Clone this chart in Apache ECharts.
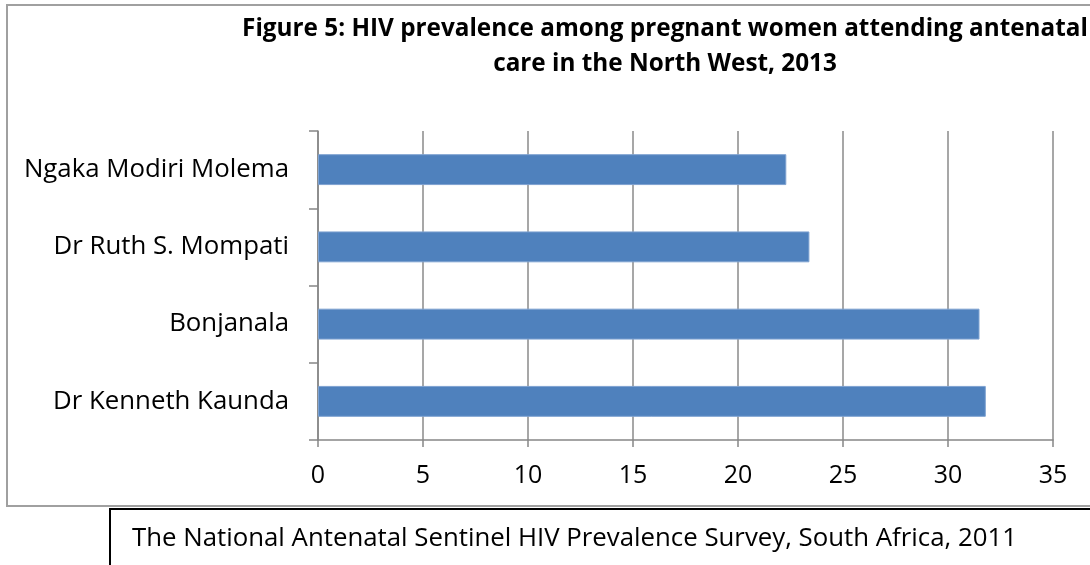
<!DOCTYPE html>
<html>
<head>
<meta charset="utf-8">
<script src="https://cdn.jsdelivr.net/npm/echarts@6/dist/echarts.min.js"></script>
<style>
html,body{margin:0;padding:0;background:#fff;}
#chart{width:1090px;height:565px;}
</style>
</head>
<body>
<div id="chart"></div>
<script>
var titleLines = ['Figure 5: HIV prevalence among pregnant women attending antenatal', 'care in the North West, 2013'];
var categories = ['Dr Kenneth Kaunda', 'Bonjanala', 'Dr Ruth S. Mompati', 'Ngaka Modiri Molema'];
var prevalence = [31.8, 31.5, 23.4, 22.3];
var xTicks = [0, 5, 10, 15, 20, 25, 30, 35];
var sourceNote = 'The National Antenatal Sentinel HIV Prevalence Survey, South Africa, 2011';

var FONT = 'Open Sans';
var chart = echarts.init(document.getElementById('chart'));
chart.setOption({
  animation: false,
  backgroundColor: '#fff',
  title: {
    text: titleLines.join('\n'),
    left: 660,
    top: 7,
    textAlign: 'center',
    textStyle: {fontFamily: FONT, fontWeight: 'bold', fontSize: 24.3, lineHeight: 35, color: '#000'}
  },
  grid: {left: 318, top: 131, width: 735, height: 309, containLabel: false},
  xAxis: {
    type: 'value',
    min: xTicks[0],
    max: xTicks[xTicks.length - 1],
    interval: 5,
    axisLine: {show: true, lineStyle: {color: '#868686', width: 1.5}},
    axisTick: {show: true, length: 7, lineStyle: {color: '#868686', width: 1.5}},
    axisLabel: {margin: 23, fontFamily: FONT, fontSize: 25, color: '#000'},
    splitLine: {show: true, lineStyle: {color: '#8a8a8a', width: 1.5}}
  },
  yAxis: {
    type: 'category',
    data: categories,
    axisLine: {show: true, lineStyle: {color: '#868686', width: 1.5}},
    axisTick: {show: true, length: 9, lineStyle: {color: '#868686', width: 1.5}},
    axisLabel: {margin: 29, fontFamily: FONT, fontSize: 25.8, color: '#000'},
    splitLine: {show: false}
  },
  series: [{
    type: 'bar',
    data: prevalence,
    barCategoryGap: '60%',
    itemStyle: {color: '#4F81BD', borderColor: '#7ea2d1', borderWidth: 1}
  }],
  graphic: [
    {type: 'rect', shape: {x: 7, y: 5, width: 1200, height: 501}, style: {fill: 'none', stroke: '#a0a0a0', lineWidth: 2}, z: -1},
    {type: 'rect', shape: {x: 110, y: 509, width: 1100, height: 100}, style: {fill: 'none', stroke: '#000', lineWidth: 2}},
    {type: 'text', x: 132, y: 539, style: {text: sourceNote, fontFamily: FONT, fontSize: 25.8, fill: '#000', verticalAlign: 'middle'}}
  ]
});
</script>
</body>
</html>
